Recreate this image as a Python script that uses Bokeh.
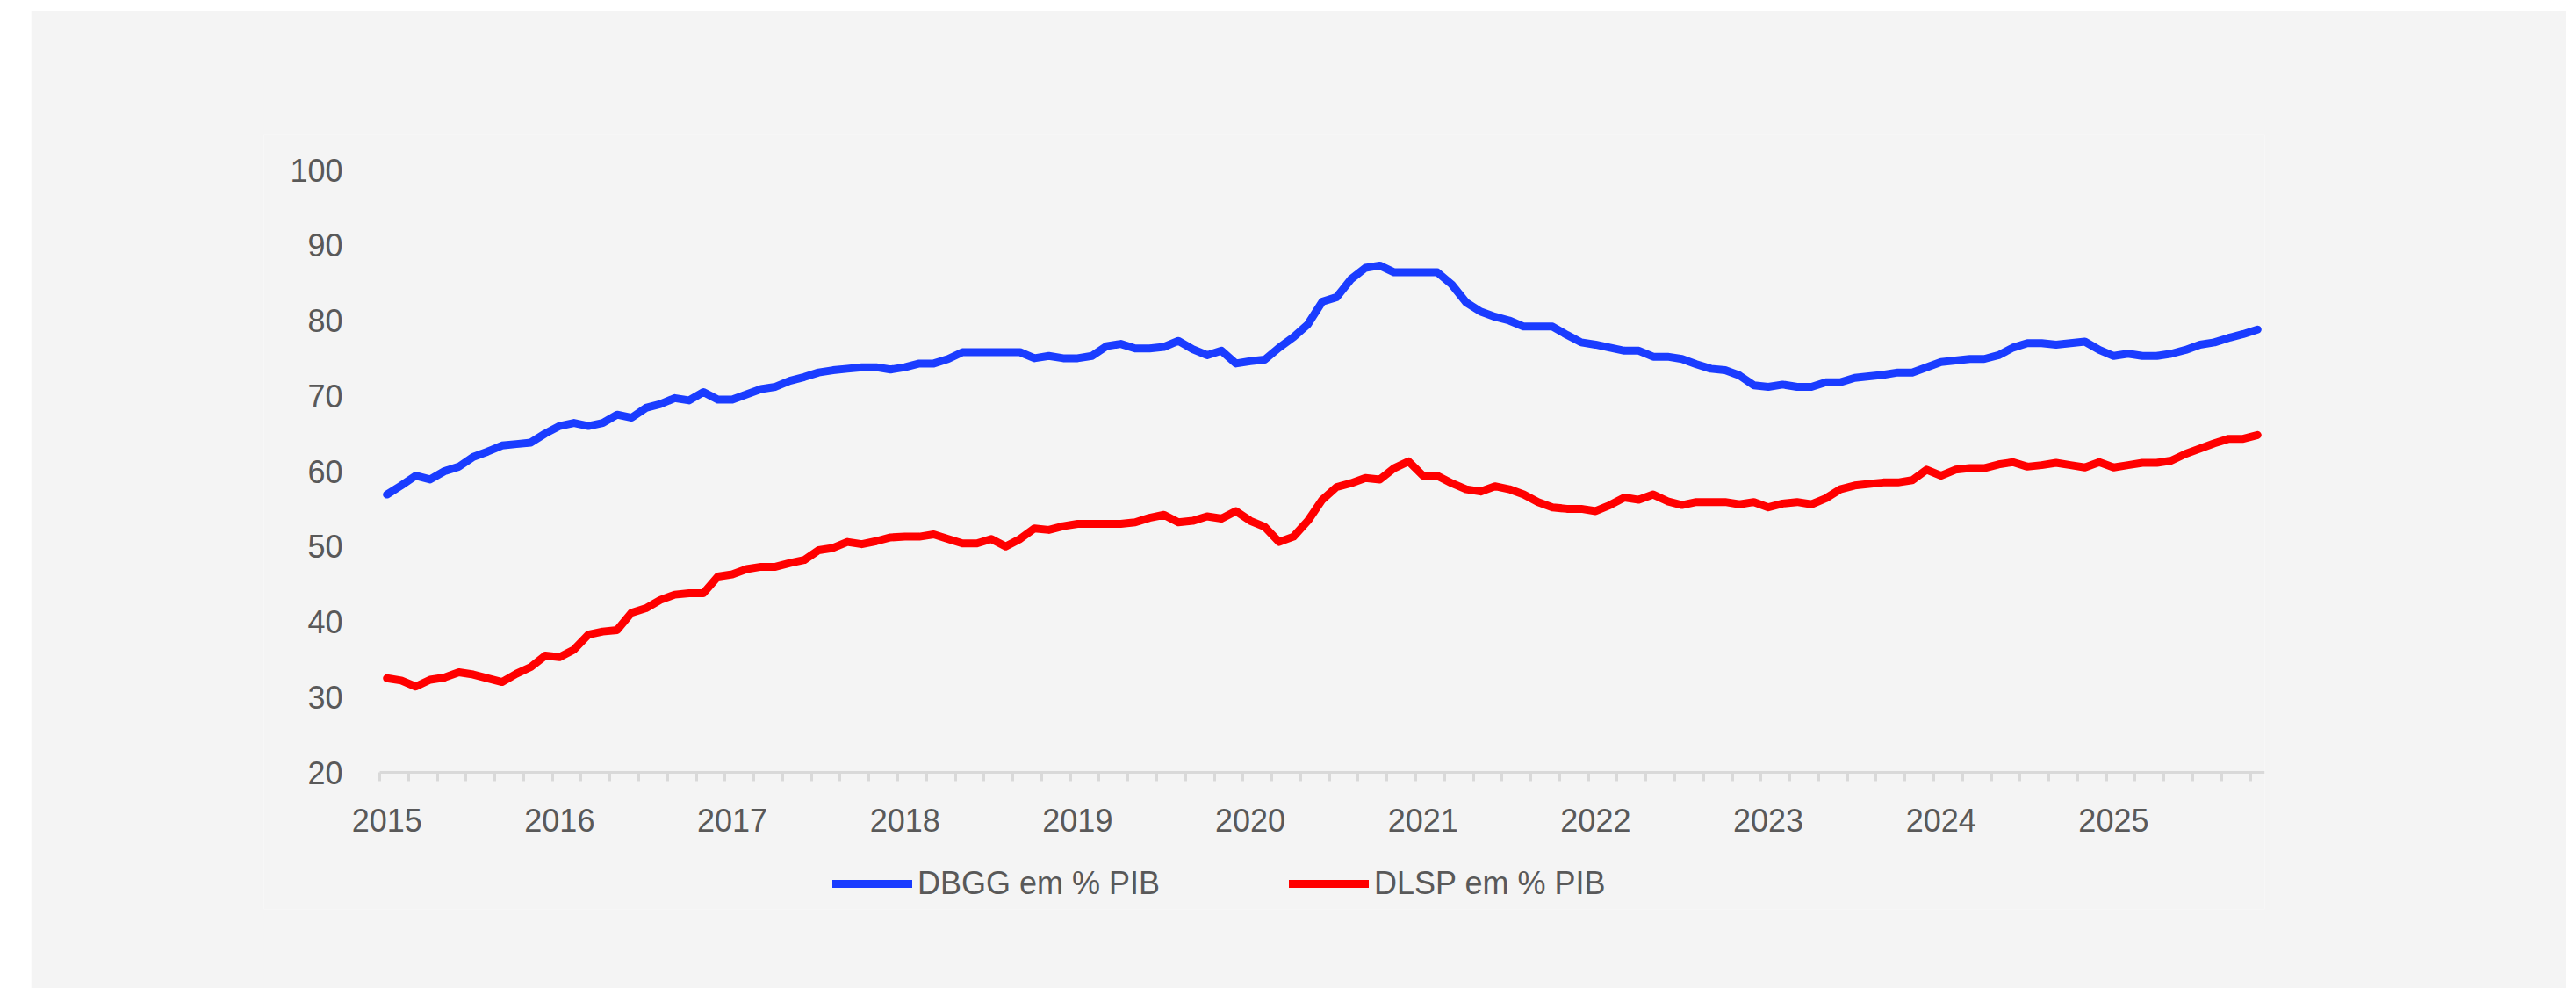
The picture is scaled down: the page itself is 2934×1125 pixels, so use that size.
from bokeh.plotting import figure
from bokeh.models import ColumnDataSource, Range1d, FixedTicker, Legend, LegendItem
from bokeh.embed import file_html
from bokeh.resources import INLINE

# Monthly data, Jan 2015 .. Nov 2025 (month index 0..130)
years = ["2015", "2016", "2017", "2018", "2019", "2020", "2021", "2022", "2023", "2024", "2025"]

dbgg = [56.9, 58.1, 59.4, 58.9, 60.0, 60.6, 61.9, 62.6, 63.4, 63.6, 63.8, 65.0,
        66.0, 66.4, 66.0, 66.4, 67.5, 67.1, 68.4, 68.9, 69.7, 69.4, 70.5, 69.5,
        69.5, 70.2, 70.9, 71.2, 72.0, 72.5, 73.1, 73.4, 73.6, 73.8, 73.8, 73.5,
        73.8, 74.3, 74.3, 74.9, 75.8, 75.8, 75.8, 75.8, 75.8, 75.0, 75.3, 75.0,
        75.0, 75.3, 76.6, 76.9, 76.3, 76.3, 76.5, 77.3, 76.2, 75.4, 76.0, 74.3,
        74.6, 74.8, 76.4, 77.8, 79.5, 82.5, 83.1, 85.5, 87.0, 87.3, 86.4, 86.4,
        86.4, 86.4, 84.8, 82.4, 81.2, 80.5, 80.0, 79.2, 79.2, 79.2, 78.1, 77.1,
        76.8, 76.4, 76.0, 76.0, 75.2, 75.2, 74.9, 74.2, 73.6, 73.4, 72.7, 71.4,
        71.2, 71.5, 71.2, 71.2, 71.8, 71.8, 72.4, 72.6, 72.8, 73.1, 73.1, 73.8,
        74.5, 74.7, 74.9, 74.9, 75.4, 76.4, 77.0, 77.0, 76.8, 77.0, 77.2, 76.1,
        75.3, 75.6, 75.3, 75.3, 75.6, 76.1, 76.8, 77.1, 77.7, 78.2, 78.8]

dlsp = [32.5, 32.2, 31.4, 32.3, 32.6, 33.3, 33.0, 32.5, 32.0, 33.1, 34.0, 35.5,
        35.3, 36.3, 38.3, 38.7, 38.9, 41.2, 41.8, 42.9, 43.6, 43.8, 43.8, 46.0,
        46.3, 47.0, 47.3, 47.3, 47.8, 48.2, 49.5, 49.8, 50.6, 50.3, 50.7, 51.2,
        51.3, 51.3, 51.6, 51.0, 50.4, 50.4, 51.0, 50.0, 51.0, 52.4, 52.2, 52.7,
        53.0, 53.0, 53.0, 53.0, 53.2, 53.8, 54.2, 53.2, 53.4, 54.0, 53.7, 54.7,
        53.4, 52.6, 50.6, 51.3, 53.4, 56.2, 57.9, 58.4, 59.1, 58.9, 60.4, 61.3,
        59.4, 59.4, 58.4, 57.6, 57.3, 58.0, 57.6, 56.9, 55.9, 55.2, 55.0, 55.0,
        54.7, 55.5, 56.5, 56.2, 56.9, 56.0, 55.5, 55.9, 55.9, 55.9, 55.6, 55.9,
        55.2, 55.7, 55.9, 55.6, 56.4, 57.6, 58.1, 58.3, 58.5, 58.5, 58.8, 60.2,
        59.4, 60.2, 60.4, 60.4, 60.9, 61.2, 60.6, 60.8, 61.1, 60.8, 60.5, 61.2,
        60.5, 60.8, 61.1, 61.1, 61.4, 62.3, 63.0, 63.7, 64.3, 64.3, 64.8]

y_ticks = [20, 30, 40, 50, 60, 70, 80, 90, 100]
y_min, y_max = 20, 100

n = len(dbgg)
month = list(range(n))
src = ColumnDataSource(dict(month=month, dbgg=dbgg, dlsp=dlsp))

BG = "#f4f4f4"
FONT = "Liberation Sans"
TXT = "#595959"

# Layout (pixels).  The frame is enlarged around the data area so that axis labels
# and the legend (which are clipped to the frame) stay visible.
PLOT_W = 2147          # width of the data span (131 months)
PLOT_H = 686           # height of the 20..100 span
PAD_L = 132            # extra frame on the left (y labels / "2015")
PAD_T = 40             # extra frame on top ("100" label)
PAD_B = 156            # extra frame below y=20 (x labels and legend)
FRAME_W = PLOT_W + PAD_L
FRAME_H = PAD_T + PLOT_H + PAD_B
px_per_month = PLOT_W / n
px_per_unit = PLOT_H / (y_max - y_min)
x_start = -0.5 - PAD_L / px_per_month
y_start = y_min - PAD_B / px_per_unit
y_end = y_max + PAD_T / px_per_unit

p = figure(frame_width=FRAME_W, frame_height=FRAME_H, output_backend="svg",
           toolbar_location=None,
           x_range=Range1d(x_start, n - 0.5), y_range=Range1d(y_start, y_end),
           min_border_left=265, min_border_right=344, min_border_top=181 - PAD_T,
           min_border_bottom=90, margin=(12, 0, 0, 35))
p.background_fill_color = BG
p.border_fill_color = BG
p.outline_line_color = None
p.xgrid.visible = False
p.ygrid.visible = False

r1 = p.line("month", "dbgg", source=src, line_color="#1a3cff", line_width=9,
            line_join="round", line_cap="round")
r2 = p.line("month", "dlsp", source=src, line_color="#ff0000", line_width=9,
            line_join="round", line_cap="round")

# x axis, drawn at y = 20
year_ticks = [12 * k for k in range(len(years))]
minor = [-0.5 + 2 * k for k in range(n // 2 + 1)]
p.xaxis.fixed_location = y_min
p.xaxis.bounds = (-0.5, n - 0.5)
p.xaxis.ticker = FixedTicker(ticks=year_ticks, minor_ticks=minor)
p.xaxis.major_label_overrides = {t: y for t, y in zip(year_ticks, years)}
p.xaxis.axis_line_color = "#d9d9d9"
p.xaxis.axis_line_width = 3
p.xaxis.major_tick_line_color = None
p.xaxis.major_tick_out = 0
p.xaxis.major_tick_in = 0
p.xaxis.minor_tick_line_color = "#d9d9d9"
p.xaxis.minor_tick_line_width = 3
p.xaxis.minor_tick_out = 10
p.xaxis.minor_tick_in = 0
p.xaxis.major_label_standoff = 31
p.xaxis.major_label_text_font = FONT
p.xaxis.major_label_text_font_size = "36px"
p.xaxis.major_label_text_color = TXT

# y axis, drawn at the left edge of the data span
p.yaxis.fixed_location = -0.5
p.yaxis.bounds = (y_min, y_max)
p.yaxis.ticker = FixedTicker(ticks=y_ticks)
p.yaxis.axis_line_color = None
p.yaxis.major_tick_line_color = None
p.yaxis.minor_tick_line_color = None
p.yaxis.major_tick_out = 0
p.yaxis.major_tick_in = 0
p.yaxis.major_label_standoff = 42
p.yaxis.major_label_text_font = FONT
p.yaxis.major_label_text_font_size = "36px"
p.yaxis.major_label_text_color = TXT

legend = Legend(items=[LegendItem(label="DBGG em % PIB", renderers=[r1]),
                       LegendItem(label="DLSP em % PIB", renderers=[r2])],
                orientation="horizontal", location=(PAD_L + 516, 8),
                glyph_width=91, glyph_height=26, label_height=26,
                label_standoff=6, spacing=147, padding=0, margin=0,
                border_line_color=None, background_fill_alpha=0,
                label_text_font=FONT, label_text_font_size="36px",
                label_text_color=TXT)
p.add_layout(legend, "center")

open("out.html", "w").write(file_html(p, INLINE))
